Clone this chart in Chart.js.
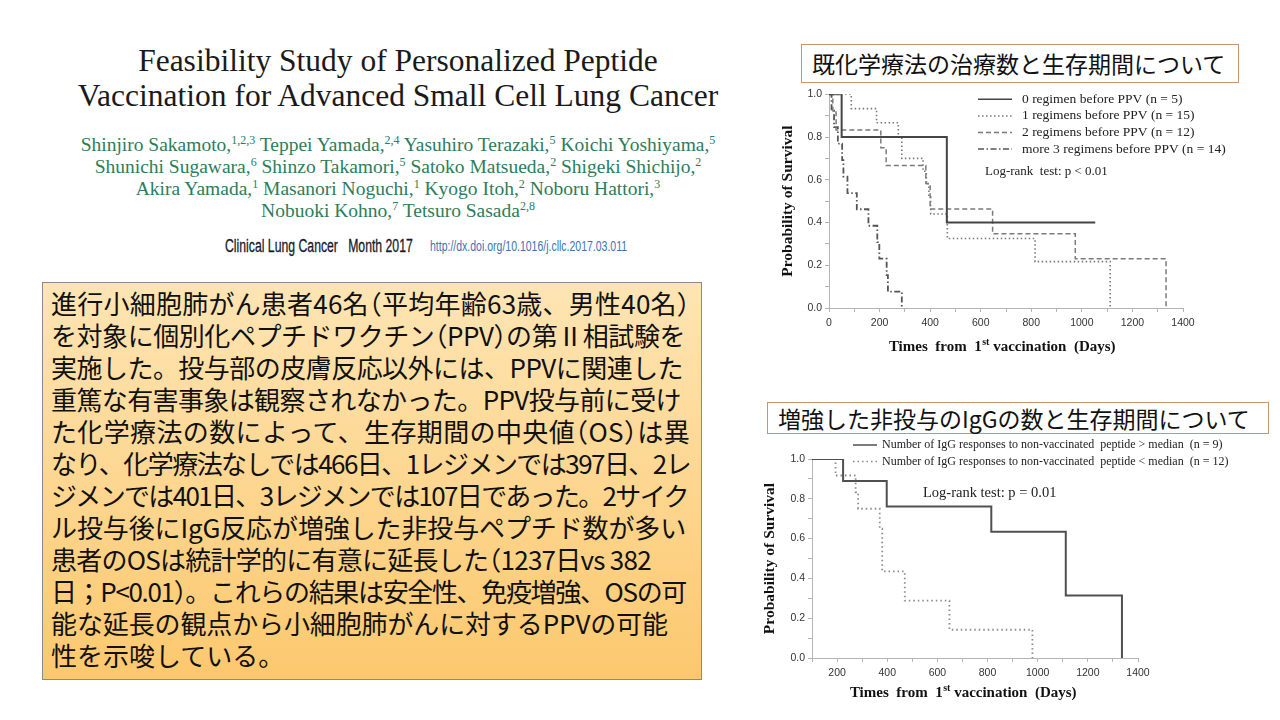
<!DOCTYPE html>
<html>
<head>
<meta charset="utf-8">
<script src="https://cdn.jsdelivr.net/npm/chart.js@4.4.1/dist/chart.umd.min.js"></script>
<style>
  body { margin: 0; width: 1280px; height: 720px; background: #fff; position: relative; overflow: hidden; font-family: "Liberation Serif", serif; }
  .title { position: absolute; left: 40px; width: 716px; top: 43px; text-align: center; font-size: 31.5px; line-height: 35px; color: #1a1a1a; }
  .authors { position: absolute; left: 40px; width: 716px; top: 134px; text-align: center; font-size: 19.5px; line-height: 22px; color: #2d7d5b; white-space: nowrap; }
  .authors sup { font-size: 12px; line-height: 0; vertical-align: 7px; }
  .journal { position: absolute; left: 225px; top: 235px; font-family: "Liberation Sans", sans-serif; font-size: 18px; line-height: 22px; color: #161a2a; -webkit-text-stroke: 0.3px #161a2a; transform: scaleX(0.68); transform-origin: left top; white-space: nowrap; }
  .doi { position: absolute; left: 430px; top: 238px; font-family: "Liberation Sans", sans-serif; font-size: 14px; line-height: 16px; color: #3f72b5; transform: scaleX(0.75); transform-origin: left top; white-space: nowrap; }
  .summary { position: absolute; left: 42px; top: 282px; width: 660px; height: 398px; border: 1px solid #8a8a8a;
             background: linear-gradient(#fee5b4, #fcc86e); padding: 4px 0 0 8px; box-sizing: border-box; }
  .summary .ln { width: max-content; font-family: "Noto Sans CJK JP", sans-serif; font-size: 26px; line-height: 32px; color: #111; white-space: nowrap; }
  .summary .h { font-feature-settings: "halt"; }
  .head { position: absolute; border: 1px solid #c8956c; font-family: "Noto Sans CJK JP", sans-serif; font-size: 23px; color: #111; box-sizing: border-box; white-space: nowrap; }
  .chartbox { position: absolute; }
</style>
</head>
<body>

<div class="title">Feasibility Study of Personalized Peptide<br>Vaccination for Advanced Small Cell Lung Cancer</div>
<div class="authors">
  Shinjiro Sakamoto,<sup>1,2,3</sup> Teppei Yamada,<sup>2,4</sup> Yasuhiro Terazaki,<sup>5</sup> Koichi Yoshiyama,<sup>5</sup><br>
  Shunichi Sugawara,<sup>6</sup> Shinzo Takamori,<sup>5</sup> Satoko Matsueda,<sup>2</sup> Shigeki Shichijo,<sup>2</sup><br>
  Akira Yamada,<sup>1</sup> Masanori Noguchi,<sup>1</sup> Kyogo Itoh,<sup>2</sup> Noboru Hattori,<sup>3</sup><br>
  Nobuoki Kohno,<sup>7</sup> Tetsuro Sasada<sup>2,8</sup>
</div>
<div class="journal">Clinical Lung Cancer&nbsp;&nbsp; Month 2017</div>
<div class="doi">http://dx.doi.org/10.1016/j.cllc.2017.03.011</div>

<!-- data-w: line width to fit, as in the slide's text box -->
<div class="summary">
  <div class="ln" data-w="639">進行小細胞肺がん患者46名<span class="h">（</span>平均年齢63歳、男性40名<span class="h">）</span></div>
  <div class="ln" data-w="634">を対象に個別化ペプチドワクチン<span class="h">（</span>PPV<span class="h">）</span>の第Ⅱ相試験を</div>
  <div class="ln" data-w="632">実施した。投与部の皮膚反応以外には、PPVに関連した</div>
  <div class="ln" data-w="630">重篤な有害事象は観察されなかった。PPV投与前に受け</div>
  <div class="ln" data-w="639">た化学療法の数によって、生存期間の中央値<span class="h">（</span>OS<span class="h">）</span>は異</div>
  <div class="ln" data-w="639">なり、化学療法なしでは466日、1レジメンでは397日、2レ</div>
  <div class="ln" data-w="637">ジメンでは401日、3レジメンでは107日であった。2サイク</div>
  <div class="ln" data-w="635">ル投与後にIgG反応が増強した非投与ペプチド数が多い</div>
  <div class="ln" data-w="600">患者のOSは統計学的に有意に延長した<span class="h">（</span>1237日vs 382</div>
  <div class="ln" data-w="635">日；P&lt;0.01<span class="h">）</span>。これらの結果は安全性、免疫増強、OSの可</div>
  <div class="ln" data-w="617">能な延長の観点から小細胞肺がんに対するPPVの可能</div>
  <div class="ln">性を示唆している。</div>
</div>

<div class="head" style="left:801px;top:44px;width:438px;height:39px;line-height:37px;padding-left:10px;">既化学療法の治療数と生存期間について</div>
<div class="head" style="left:767px;top:402px;width:502px;height:32px;line-height:30px;padding-left:10px;">増強した非投与のIgGの数と生存期間について</div>

<div class="chartbox" style="left:760px;top:85px;width:480px;height:275px;"><canvas id="regimenChart"></canvas></div>
<div class="chartbox" style="left:750px;top:436px;width:520px;height:276px;"><canvas id="iggChart"></canvas></div>

<script>
// ---- data: Kaplan-Meier steps (days, survival after the step) ----
const regimen0Days = [0, 50, 466, 1053];
const regimen0Surv = [1, 0.8, 0.4, 0.4];
const regimen1Days = [0, 88, 188, 274, 288, 372, 385, 395, 402, 468, 815, 1112];
const regimen1Surv = [1, 0.933, 0.867, 0.8, 0.7, 0.64, 0.58, 0.52, 0.44, 0.325, 0.217, 0];
const regimen2Days = [0, 15, 28, 205, 226, 383, 400, 647, 974, 1333];
const regimen2Surv = [1, 0.917, 0.833, 0.75, 0.667, 0.583, 0.463, 0.347, 0.231, 0];
const regimen3Days = [0, 10, 20, 35, 52, 57, 73, 110, 156, 191, 199, 228, 233, 288];
const regimen3Surv = [1, 0.923, 0.846, 0.769, 0.692, 0.615, 0.538, 0.462, 0.385, 0.308, 0.231, 0.154, 0.077, 0];
const regimenLabels = [
  '0 regimen before PPV (n = 5)',
  '1 regimens before PPV (n = 15)',
  '2 regimens before PPV (n = 12)',
  'more 3 regimens before PPV (n = 14)'
];

const iggHighDays = [100, 224, 398, 815, 1112, 1336];
const iggHighSurv = [1, 0.889, 0.761, 0.635, 0.314, 0];
const iggLowDays = [100, 194, 274, 284, 370, 380, 470, 648, 979];
const iggLowSurv = [1, 0.917, 0.833, 0.75, 0.65, 0.435, 0.288, 0.142, 0];
const iggLabels = [
  'Number of IgG responses to non-vaccinated  peptide > median  (n = 9)',
  'Number of IgG responses to non-vaccinated  peptide < median  (n = 12)'
];

const survTicks = [0, 0.2, 0.4, 0.6, 0.8, 1.0];
const dayTicks = [0, 200, 400, 600, 800, 1000, 1200, 1400];

// squeeze each summary line to the width it has on the slide
document.querySelectorAll('.summary .ln[data-w]').forEach(el => {
  const n = [...el.textContent].length;
  const w = el.getBoundingClientRect().width;
  el.style.letterSpacing = ((+el.dataset.w - w) / n).toFixed(2) + 'px';
});

// ---- helpers ----
const toPoints = (days, surv) => days.map((d, i) => ({ x: d, y: surv[i] }));

function kmLine(label, days, surv, color, width, dash) {
  return {
    label: label,
    data: toPoints(days, surv),
    borderColor: color,
    borderWidth: width,
    borderDash: dash,
    stepped: true,
    pointRadius: 0,
    fill: false
  };
}

// legend, log-rank note and axis titles drawn on the canvas
const overlayText = {
  id: 'overlayText',
  afterDraw(chart, args, o) {
    const { ctx, chartArea: a } = chart;
    ctx.save();
    ctx.textBaseline = 'middle';

    // legend
    chart.data.datasets.forEach((ds, i) => {
      const y = a.top + o.legY + i * o.legRow;
      const x0 = a.left + o.legX;
      ctx.strokeStyle = ds.borderColor;
      ctx.lineWidth = Math.min(ds.borderWidth, 1.5);
      ctx.setLineDash(ds.borderDash || []);
      ctx.beginPath();
      ctx.moveTo(x0, y);
      ctx.lineTo(x0 + o.legLen, y);
      ctx.stroke();
      ctx.setLineDash([]);
      ctx.fillStyle = '#222';
      ctx.font = o.legFont;
      ctx.textAlign = 'left';
      ctx.fillText(ds.label, x0 + o.legLen + o.legGap, y);
    });

    // log-rank
    ctx.font = o.noteFont;
    ctx.fillStyle = '#222';
    ctx.fillText(o.note, a.left + o.noteX, a.top + o.noteY);

    // y title
    ctx.font = 'bold 15.5px "Liberation Serif"';
    ctx.fillStyle = '#111';
    ctx.save();
    ctx.translate(a.left + o.yTitleX, (a.top + a.bottom) / 2);
    ctx.rotate(-Math.PI / 2);
    ctx.textAlign = 'center';
    ctx.fillText('Probability of Survival', 0, 0);
    ctx.restore();

    // x title with superscript
    const big = 'bold 15px "Liberation Serif"';
    const small = 'bold 10px "Liberation Serif"';
    const p1 = 'Times  from  1', p2 = 'st', p3 = ' vaccination  (Days)';
    ctx.font = big; const w1 = ctx.measureText(p1).width, w3 = ctx.measureText(p3).width;
    ctx.font = small; const w2 = ctx.measureText(p2).width;
    let x = (a.left + a.right) / 2 + o.xTitleDx - (w1 + w2 + w3) / 2;
    const y = a.bottom + o.xTitleY;
    ctx.textAlign = 'left';
    ctx.font = big; ctx.fillText(p1, x, y); x += w1;
    ctx.font = small; ctx.fillText(p2, x + 0.5, y - 4.5); x += w2 + 0.5;
    ctx.font = big; ctx.fillText(p3, x, y);
    ctx.restore();
  }
};

function axes(xMin, yWidth, xHeight) {
  const gridOpts = { drawOnChartArea: false, drawTicks: true, tickLength: 4, color: '#b5b5b5' };
  const tickFont = { family: 'Liberation Sans', size: 10.5 };
  return {
    x: {
      type: 'linear', min: xMin, max: 1400,
      afterFit: s => { s.height = xHeight; },
      afterBuildTicks: s => {
        const t = [];
        for (let v = xMin; v <= 1400; v += 100) t.push({ value: v });
        s.ticks = t;
      },
      ticks: {
        autoSkip: false, maxRotation: 0, padding: 5, color: '#333', font: tickFont,
        callback: v => dayTicks.includes(v) ? String(v) : ''
      },
      grid: gridOpts,
      border: { color: '#b5b5b5', width: 1 }
    },
    y: {
      min: 0, max: 1,
      afterFit: s => { s.width = yWidth; },
      afterBuildTicks: s => {
        const t = [];
        for (let k = 0; k <= 10; k++) t.push({ value: k / 10 });
        s.ticks = t;
      },
      ticks: {
        autoSkip: false, padding: 3, color: '#333', font: tickFont,
        callback: v => survTicks.some(t => Math.abs(t - v) < 1e-6) ? v.toFixed(1) : ''
      },
      grid: gridOpts,
      border: { color: '#b5b5b5', width: 1 }
    }
  };
}

// ---- top chart: number of prior regimens ----
new Chart(document.getElementById('regimenChart'), {
  type: 'line',
  data: {
    datasets: [
      kmLine(regimenLabels[0], regimen0Days, regimen0Surv, '#454545', 2, []),
      kmLine(regimenLabels[1], regimen1Days, regimen1Surv, '#7a7a7a', 1.6, [1.5, 2.5]),
      kmLine(regimenLabels[2], regimen2Days, regimen2Surv, '#7a7a7a', 1.5, [5, 3]),
      kmLine(regimenLabels[3], regimen3Days, regimen3Surv, '#555555', 1.8, [6, 2.5, 1.5, 2.5])
    ]
  },
  options: {
    responsive: true,
    maintainAspectRatio: false,
    animation: false,
    layout: { padding: { top: 7, right: 57, left: 0, bottom: 0 } },
    plugins: {
      legend: { display: false },
      tooltip: { enabled: false },
      overlayText: {
        legX: 149, legY: 5, legRow: 16.6, legLen: 34, legGap: 10,
        legFont: '13.5px "Liberation Serif"',
        note: 'Log-rank  test: p < 0.01', noteX: 156, noteY: 77, noteFont: '13px "Liberation Serif"',
        yTitleX: -41, xTitleDx: -4, xTitleY: 39
      }
    },
    scales: axes(0, 69, 52)
  },
  plugins: [overlayText]
});

// ---- bottom chart: IgG responses to non-vaccinated peptides ----
new Chart(document.getElementById('iggChart'), {
  type: 'line',
  data: {
    datasets: [
      kmLine(iggLabels[0], iggHighDays, iggHighSurv, '#505050', 2, []),
      kmLine(iggLabels[1], iggLowDays, iggLowSurv, '#8a8a8a', 1.8, [1.5, 3])
    ]
  },
  options: {
    responsive: true,
    maintainAspectRatio: false,
    animation: false,
    layout: { padding: { top: 23, right: 132, left: 0, bottom: 0 } },
    plugins: {
      legend: { display: false },
      tooltip: { enabled: false },
      overlayText: {
        legX: 41, legY: -14, legRow: 16.5, legLen: 24, legGap: 5,
        legFont: '12px "Liberation Serif"',
        note: 'Log-rank test: p = 0.01', noteX: 111, noteY: 34, noteFont: '14.5px "Liberation Serif"',
        yTitleX: -42, xTitleDx: -12, xTitleY: 35
      }
    },
    scales: axes(100, 62, 54)
  },
  plugins: [overlayText]
});
</script>
</body>
</html>
